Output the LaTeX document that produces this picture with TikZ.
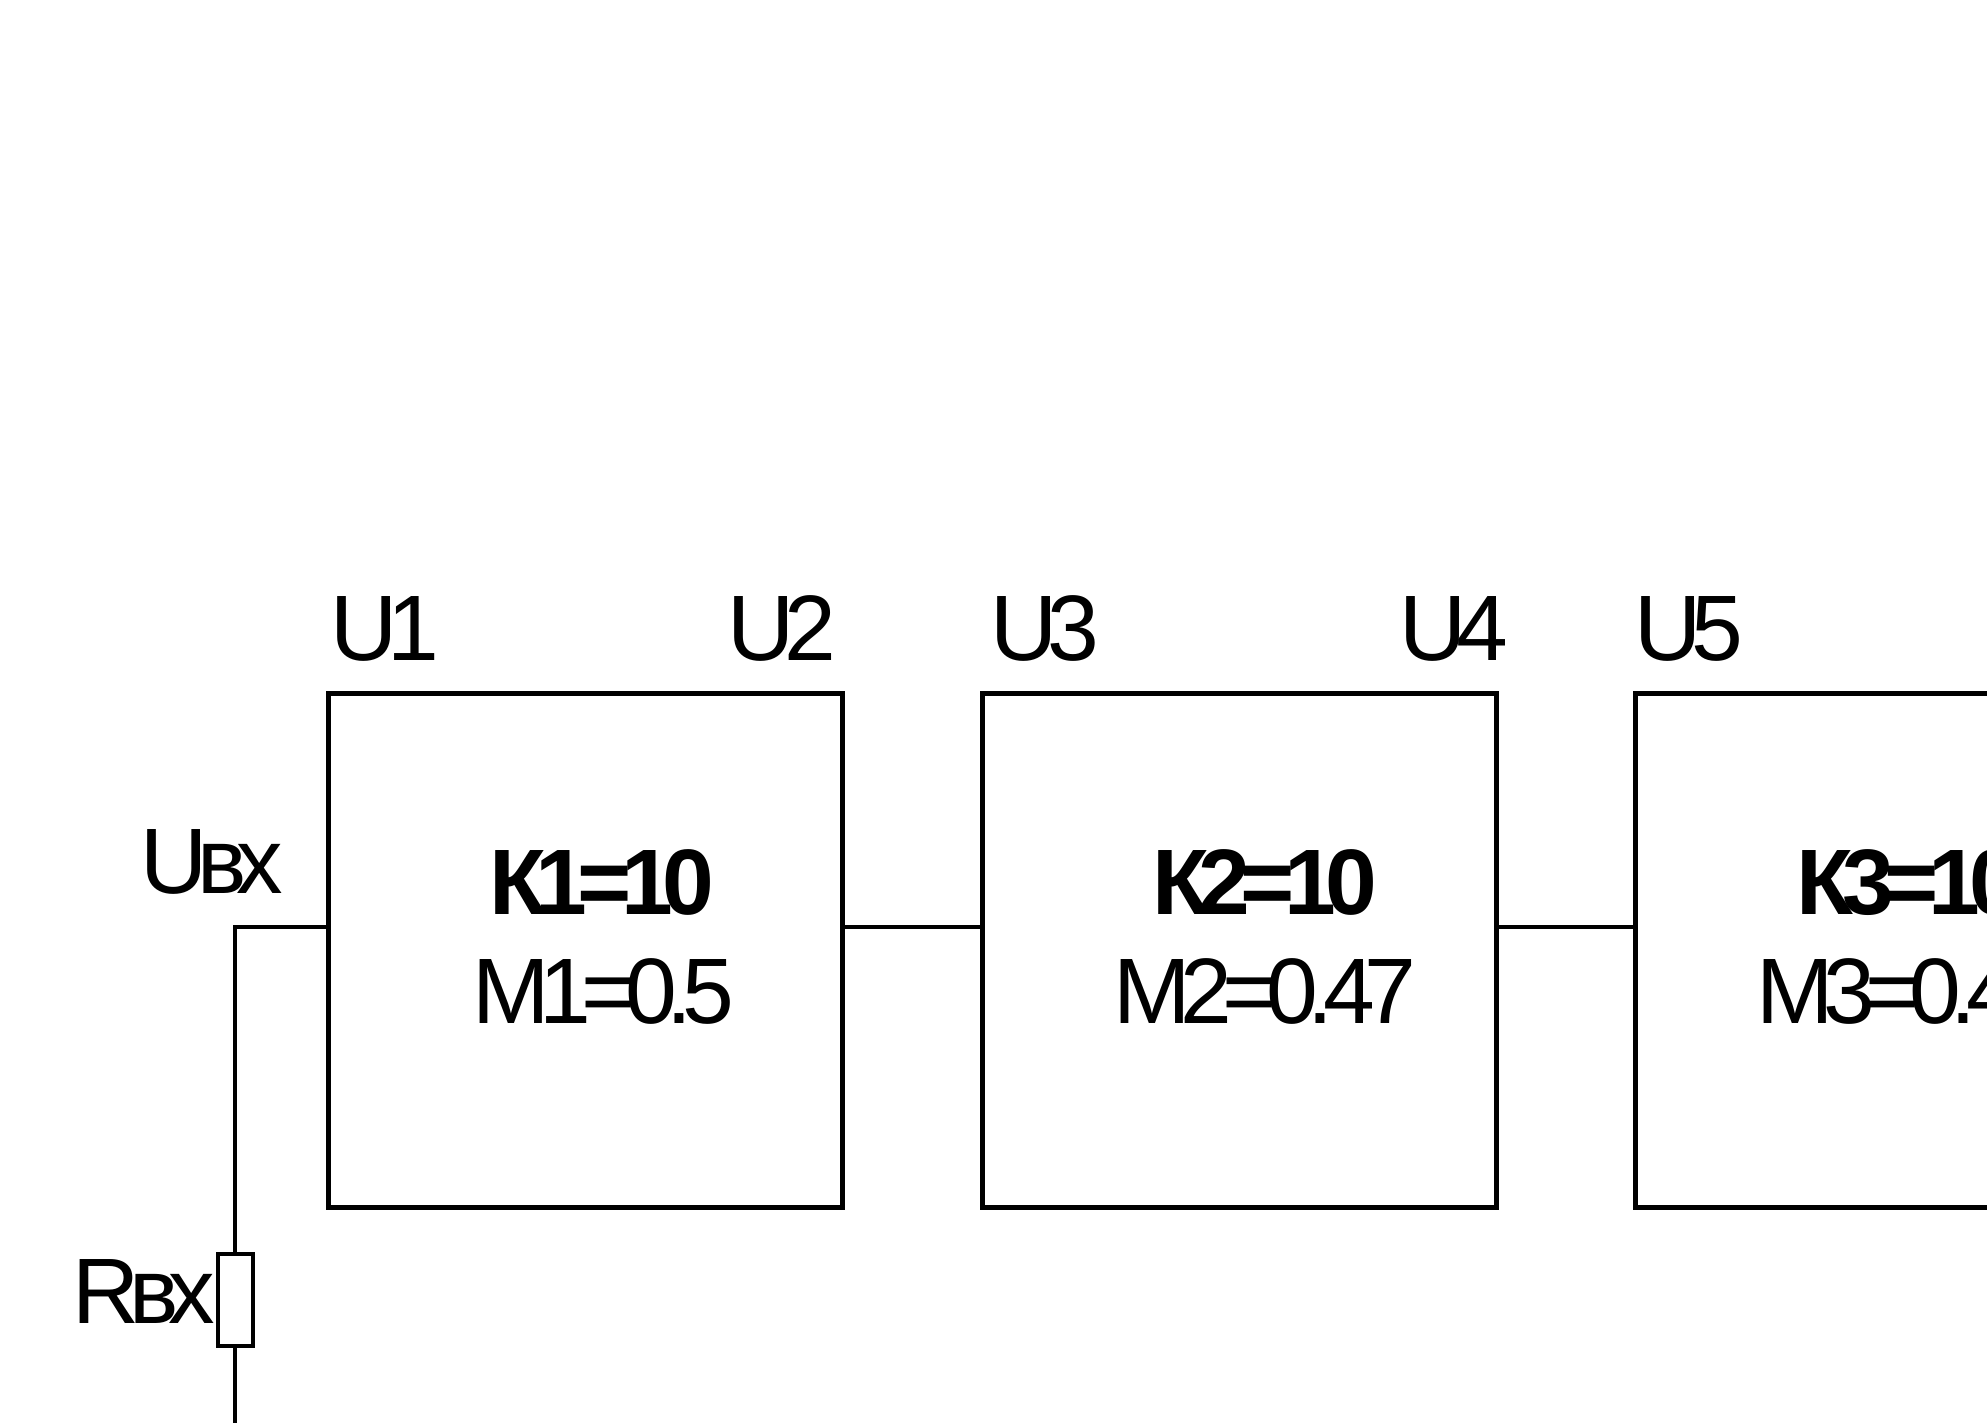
\documentclass[tikz,border=0pt]{standalone}
\usepackage{fontspec}
\setmainfont{Liberation Sans}
\newfontfamily\lab{Liberation Sans}[LetterSpace=-11]
\begin{document}
\begin{tikzpicture}[x=1pt,y=-1pt,
  blk/.style={draw,line width=5.5pt,minimum width=514pt,minimum height=514pt,inner sep=0pt},
  res/.style={draw,line width=4pt,minimum width=35pt,minimum height=92pt,inner sep=0pt},
  wire/.style={line width=4pt},
  txt/.style={anchor=base west,inner sep=0pt,font=\lab\fontsize{93}{100}\selectfont},
  btxt/.style={txt,font=\lab\bfseries\fontsize{93}{100}\selectfont}]
\useasboundingbox (0,0) rectangle (1987,1423);
\clip (0,0) rectangle (1987,1423);
\fill[white] (0,0) rectangle (1987,1423);
\node[blk] (b1) at (585.5,950.5) {};
\node[blk] (b2) at (1239.5,950.5) {};
\node[blk] (b3) at (1892.5,950.5) {};
\node[res] (r) at (235,1300) {};
\coordinate (gnd) at (235,1440);
\draw[wire] ([yshift=24pt]b1.east) -- ([yshift=24pt]b2.west);
\draw[wire] ([yshift=24pt]b2.east) -- ([yshift=24pt]b3.west);
\draw[wire] ([yshift=24pt]b1.west) -| (r.north);
\draw[wire] (r.south) -- (gnd);
\node[txt] (u1) at (330,660) {U1};
\node[txt] (u2) at (727,660) {U2};
\node[txt] (u3) at (990,660) {U3};
\node[txt] (u4) at (1399,660) {U4};
\node[txt] (u5) at (1634,660) {U5};
\node[txt] (uin) at (140,893) {Uвх};
\node[txt] (rin) at (72,1323) {Rвх};
\node[btxt] (k1) at (489,914) {К1=10};
\node[txt] (m1) at (472,1023) {М1=0.5};
\node[btxt] (k2) at (1152,914) {К2=10};
\node[txt] (m2) at (1113,1023) {М2=0.47};
\node[btxt] (k3) at (1796,914) {К3=10};
\node[txt] (m3) at (1756,1023) {М3=0.4};
\end{tikzpicture}
\end{document}
